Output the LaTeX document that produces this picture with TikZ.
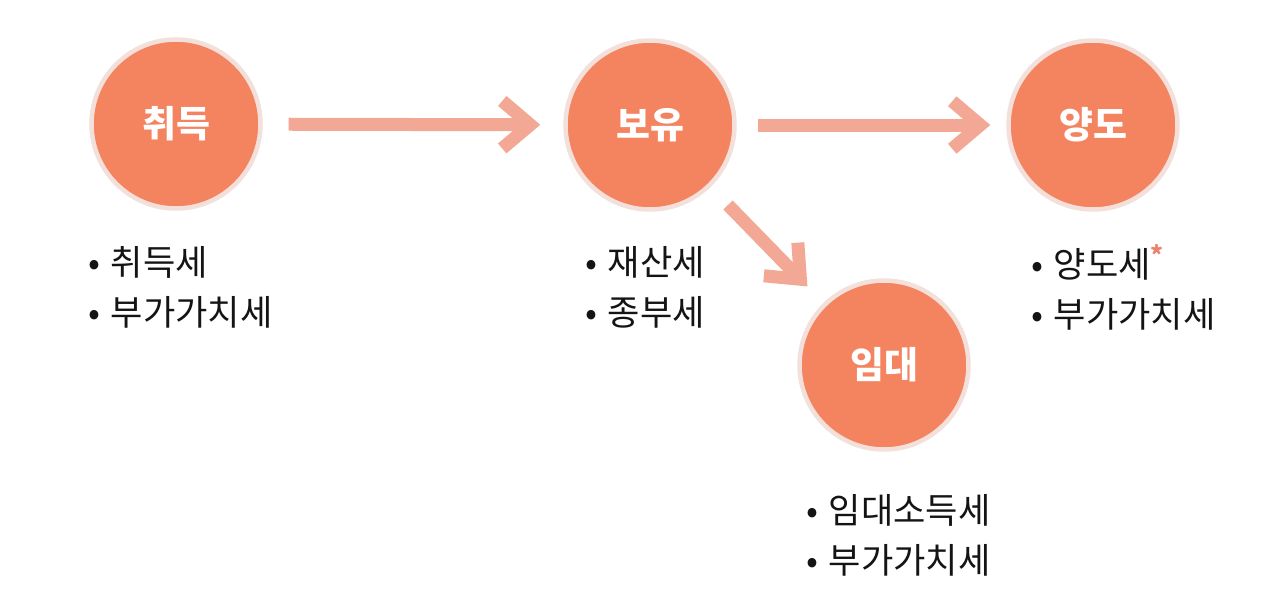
\documentclass[tikz,border=0pt]{standalone}
\usepackage{fontspec}
\setmainfont{Noto Sans CJK KR}
\usepackage{tikz}
\usetikzlibrary{arrows.meta}

\definecolor{stagefill}{RGB}{244,131,96}
\definecolor{stagering}{RGB}{244,224,219}
\definecolor{flowpink}{RGB}{243,168,150}
\definecolor{textdark}{RGB}{20,20,20}
\definecolor{starpink}{RGB}{236,130,110}
\newcommand{\taxdot}{•\hspace{0.3em}}

\begin{document}
\begin{tikzpicture}[x=0.02cm, y=-0.02cm,
	stage/.style={circle, fill=stagefill, draw=stagering, line width=0.09cm, minimum size=3.38cm, text=white, font=\fontsize{21}{25}\selectfont\bfseries},
	flow/.style={draw=flowpink, line width=0.26cm, -{Straight Barb[length=0.56cm 0, width=0.95cm 0]}},
	taxlist/.style={anchor=west, align=left, text=textdark, inner sep=0pt, font=\fontsize{20}{28.5}\selectfont}]
	\fill[white] (0,0) rectangle (1280,609);
	\useasboundingbox (0,0) rectangle (1280,609);
	% stages
	\node[stage] (chwi) at (176,124) {취득};
	\node[stage] (boyu) at (650,125) {보유};
	\node[stage] (yang) at (1093,125) {양도};
	\node[stage] (imdae) at (884,365) {임대};
	% arrows
	\draw[flow, shorten <=0.52cm, shorten >=0.46cm] (chwi) -- (boyu);
	\draw[flow, shorten <=0.42cm, shorten >=0.32cm] (boyu) -- (yang);
	\draw[flow, shorten <=0.5cm, shorten >=0.46cm] (boyu) -- (imdae);
	% taxes
	\node[taxlist] (chwitax) at (88,287) {\taxdot 취득세\\\taxdot 부가가치세};
	\node[taxlist] (boyutax) at (585,287) {\taxdot 재산세\\\taxdot 종부세};
	\node[taxlist] (yangtax) at (1031,287) {\taxdot 양도세\textsuperscript{\color{starpink}\bfseries*}\\\taxdot 부가가치세};
	\node[taxlist] (imdaetax) at (806,535) {\taxdot 임대소득세\\\taxdot 부가가치세};
\end{tikzpicture}
\end{document}
